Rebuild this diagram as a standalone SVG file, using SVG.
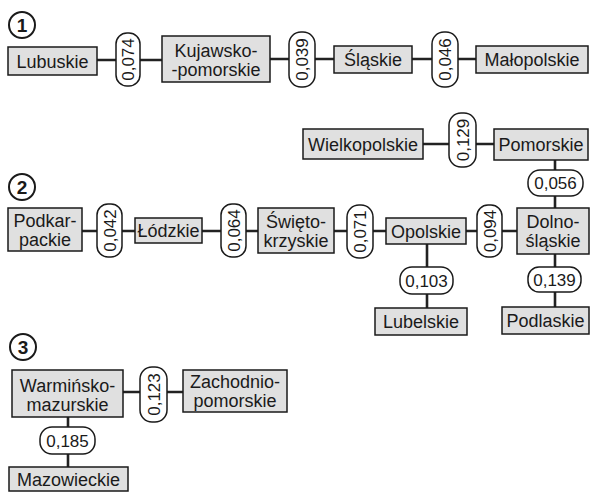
<svg xmlns="http://www.w3.org/2000/svg" width="590" height="492" viewBox="0 0 590 492">
<style>
.box{fill:#e0e0e0;stroke:#1a1a1a;stroke-width:1.5}
.pill{fill:#fff;stroke:#1a1a1a;stroke-width:1.5}
.edge{stroke:#222;stroke-width:2.6;fill:none}
.num{fill:#fff;stroke:#1a1a1a;stroke-width:2}
.t{font-family:"Liberation Sans",Arial,sans-serif;font-size:18px;fill:#1a1a1a;text-anchor:middle}
.p{font-family:"Liberation Sans",Arial,sans-serif;font-size:17px;fill:#1a1a1a;text-anchor:middle}
.n{font-family:"Liberation Sans",Arial,sans-serif;font-size:19px;font-weight:bold;fill:#1a1a1a;text-anchor:middle}
</style>
<rect width="590" height="492" fill="#fff"/>
<g id="connectors">
<line class="edge" x1="97" y1="60" x2="162" y2="60"/>
<line class="edge" x1="269" y1="59" x2="334" y2="59"/>
<line class="edge" x1="412" y1="59" x2="476" y2="59"/>
<line class="edge" x1="423" y1="144" x2="494" y2="144"/>
<line class="edge" x1="555" y1="160" x2="555" y2="208"/>
<line class="edge" x1="82" y1="231" x2="135" y2="231"/>
<line class="edge" x1="202" y1="231" x2="258" y2="231"/>
<line class="edge" x1="334" y1="231" x2="386" y2="231"/>
<line class="edge" x1="466" y1="231" x2="517" y2="231"/>
<line class="edge" x1="427" y1="244" x2="427" y2="308"/>
<line class="edge" x1="555" y1="254" x2="555" y2="307"/>
<line class="edge" x1="123" y1="392" x2="183" y2="392"/>
<line class="edge" x1="68" y1="417" x2="68" y2="467"/>
</g>
<g id="label1"><circle class="num" cx="22" cy="25" r="13"/><text class="n" x="22" y="32">1</text></g>
<g id="label2"><circle class="num" cx="22" cy="187" r="13"/><text class="n" x="22" y="194">2</text></g>
<g id="label3"><circle class="num" cx="23" cy="347" r="13"/><text class="n" x="23" y="354">3</text></g>

<g id="lubuskie"><rect class="box" x="8" y="47" width="89" height="28"/><text class="t" x="52.5" y="67.5">Lubuskie</text></g>
<g id="e074"><rect class="pill" x="116" y="33" width="24" height="53" rx="11"/><text class="p" transform="translate(128,59.5) rotate(-90)" x="0" y="6">0,074</text></g>
<g id="kujawsko"><rect class="box" x="162" y="36" width="108" height="46"/><text class="t"><tspan x="216" y="56.5">Kujawsko-</tspan><tspan x="216" y="75.5">-pomorskie</tspan></text></g>
<g id="e039"><rect class="pill" x="289" y="32" width="26" height="55" rx="12"/><text class="p" transform="translate(302,59.5) rotate(-90)" x="0" y="6">0,039</text></g>
<g id="slaskie"><rect class="box" x="334" y="46" width="78" height="27"/><text class="t" x="373" y="66">Śląskie</text></g>
<g id="e046"><rect class="pill" x="432" y="32" width="26" height="55" rx="12"/><text class="p" transform="translate(445,59.5) rotate(-90)" x="0" y="6">0,046</text></g>
<g id="malopolskie"><rect class="box" x="476" y="46" width="112" height="27"/><text class="t" x="532" y="66">Małopolskie</text></g>

<g id="wielkopolskie"><rect class="box" x="303" y="129" width="120" height="30"/><text class="t" x="363" y="150.5">Wielkopolskie</text></g>
<g id="e129"><rect class="pill" x="449" y="113" width="27" height="54" rx="12"/><text class="p" transform="translate(462.5,140) rotate(-90)" x="0" y="6">0,129</text></g>
<g id="pomorskie"><rect class="box" x="494" y="129" width="94" height="31"/><text class="t" x="541" y="150.5">Pomorskie</text></g>
<g id="e056"><rect class="pill" x="528" y="170" width="55" height="26" rx="12"/><text class="p" x="555.5" y="189">0,056</text></g>

<g id="podkarpackie"><rect class="box" x="8" y="208" width="74" height="43"/><text class="t"><tspan x="45" y="226.5">Podkar-</tspan><tspan x="45" y="245.5">packie</tspan></text></g>
<g id="e042"><rect class="pill" x="97" y="204" width="25" height="53" rx="11"/><text class="p" transform="translate(109.5,230.5) rotate(-90)" x="0" y="6">0,042</text></g>
<g id="lodzkie"><rect class="box" x="135" y="218" width="67" height="25"/><text class="t" x="168.5" y="237">Łódzkie</text></g>
<g id="e064"><rect class="pill" x="221" y="204" width="25" height="53" rx="11"/><text class="p" transform="translate(233.5,230.5) rotate(-90)" x="0" y="6">0,064</text></g>
<g id="swietokrzyskie"><rect class="box" x="258" y="208" width="76" height="45"/><text class="t"><tspan x="296" y="227.5">Święto-</tspan><tspan x="296" y="246.5">krzyskie</tspan></text></g>
<g id="e071"><rect class="pill" x="347" y="205" width="26" height="53" rx="12"/><text class="p" transform="translate(360,231.5) rotate(-90)" x="0" y="6">0,071</text></g>
<g id="opolskie"><rect class="box" x="386" y="218" width="80" height="26"/><text class="t" x="426" y="237.5">Opolskie</text></g>
<g id="e094"><rect class="pill" x="477" y="205" width="25" height="52" rx="11"/><text class="p" transform="translate(489.5,231) rotate(-90)" x="0" y="6">0,094</text></g>
<g id="dolnoslaskie"><rect class="box" x="517" y="208" width="72" height="46"/><text class="t"><tspan x="553" y="227.5">Dolno-</tspan><tspan x="553" y="246.5">śląskie</tspan></text></g>
<g id="e103"><rect class="pill" x="400" y="267" width="53" height="27" rx="12"/><text class="p" x="426.5" y="286.5">0,103</text></g>
<g id="lubelskie"><rect class="box" x="375" y="308" width="92" height="27"/><text class="t" x="421" y="328">Lubelskie</text></g>
<g id="e139"><rect class="pill" x="528" y="267" width="53" height="25" rx="11"/><text class="p" x="554.5" y="285.5">0,139</text></g>
<g id="podlaskie"><rect class="box" x="502" y="307" width="87" height="27"/><text class="t" x="545.5" y="327">Podlaskie</text></g>

<g id="warminsko"><rect class="box" x="12" y="370" width="111" height="47"/><text class="t"><tspan x="67.5" y="391.5">Warmińsko-</tspan><tspan x="67.5" y="410.5">mazurskie</tspan></text></g>
<g id="e123"><rect class="pill" x="140" y="367" width="27" height="55" rx="12"/><text class="p" transform="translate(153.5,394.5) rotate(-90)" x="0" y="6">0,123</text></g>
<g id="zachodnio"><rect class="box" x="183" y="370" width="104" height="42"/><text class="t"><tspan x="235" y="387.5">Zachodnio-</tspan><tspan x="235" y="406.5">pomorskie</tspan></text></g>
<g id="e185"><rect class="pill" x="40" y="427" width="55" height="27" rx="12"/><text class="p" x="67.5" y="446.5">0,185</text></g>
<g id="mazowieckie"><rect class="box" x="9" y="467" width="119" height="24"/><text class="t" x="68.5" y="486">Mazowieckie</text></g>
</svg>
